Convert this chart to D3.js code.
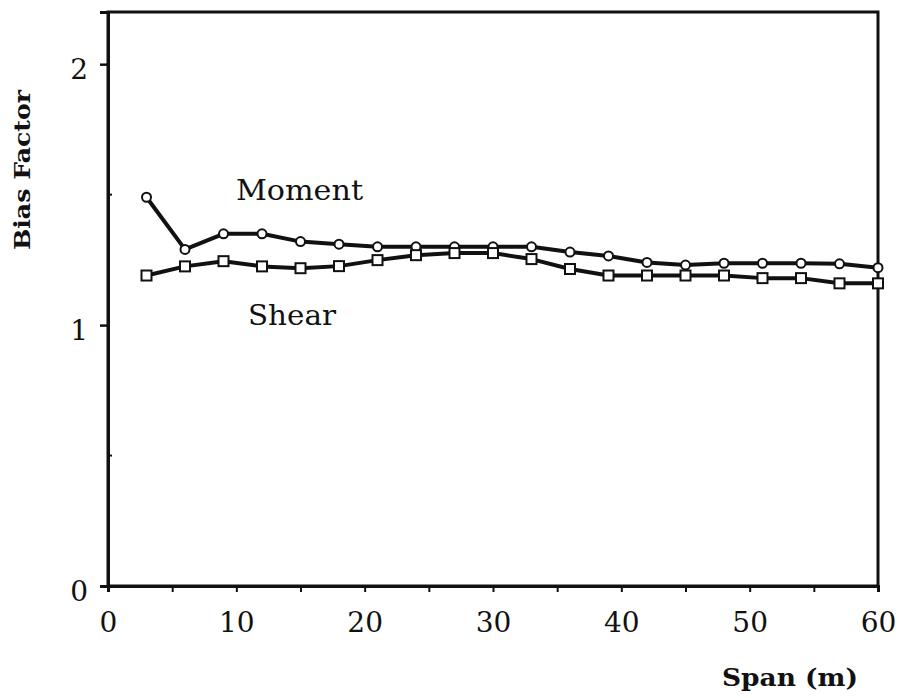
<!DOCTYPE html>
<html>
<head>
<meta charset="utf-8">
<script src="https://cdn.jsdelivr.net/npm/d3@7"></script>
<style>
  body { margin: 0; background: #fff; }
  svg { display: block; }
  .tick text { font-family: "DejaVu Serif", serif; font-size: 28px; fill: #111; }
</style>
</head>
<body>
<svg width="899" height="698"></svg>
<script>
// data
var spans = [3, 6, 9, 12, 15, 18, 21, 24, 27, 30, 33, 36, 39, 42, 45, 48, 51, 54, 57, 60];
var moment = [1.49, 1.29, 1.35, 1.35, 1.32, 1.31, 1.30, 1.30, 1.30, 1.30, 1.30, 1.28, 1.265, 1.24, 1.23, 1.237, 1.237, 1.237, 1.235, 1.22];
var shear = [1.19, 1.225, 1.245, 1.225, 1.218, 1.226, 1.249, 1.268, 1.276, 1.276, 1.253, 1.215, 1.19, 1.19, 1.19, 1.19, 1.18, 1.18, 1.16, 1.16];
var xTicks = [0, 5, 10, 15, 20, 25, 30, 35, 40, 45, 50, 55, 60];
var yMajor = [0, 1, 2];
var yMinor = [0.5, 1.5];

var svg = d3.select('svg');

var x = d3.scaleLinear().domain([0, 60]).range([108, 878]);
var y = d3.scaleLinear().domain([0, 2.2]).range([586, 12]);

// frame
svg.append('rect')
    .attr('x', x(0))
    .attr('y', y(2.2))
    .attr('width', x(60) - x(0))
    .attr('height', y(0) - y(2.2))
    .attr('fill', 'none')
    .attr('stroke', '#111')
    .attr('stroke-width', 3);

// x axis
var xAxis = svg.append('g')
    .attr('transform', 'translate(0,' + y(0) + ')')
    .call(d3.axisBottom(x)
        .tickValues(xTicks)
        .tickSize(6)
        .tickPadding(20)
        .tickFormat(function (d) { return d % 10 === 0 ? d : ''; }));
xAxis.select('.domain').attr('stroke-width', 3).attr('stroke', '#111');
xAxis.selectAll('.tick line').attr('stroke-width', 2).attr('stroke', '#111');

// y axis
var yAxis = svg.append('g')
    .attr('transform', 'translate(' + x(0) + ',0)')
    .call(d3.axisLeft(y)
        .tickValues(yMajor)
        .tickSize(8)
        .tickPadding(12)
        .tickFormat(d3.format('d')));
yAxis.select('.domain').attr('stroke-width', 3).attr('stroke', '#111');
yAxis.selectAll('.tick line').attr('stroke-width', 2.5).attr('stroke', '#111');
yAxis.selectAll('.tick text').attr('dy', '0.5em');

svg.append('g').selectAll('line')
    .data(yMinor).enter()
    .append('line')
    .attr('x1', x(0))
    .attr('x2', x(0) + 4)
    .attr('y1', function (d) { return y(d); })
    .attr('y2', function (d) { return y(d); })
    .attr('stroke', '#111')
    .attr('stroke-width', 2);

// axis titles
svg.append('text')
    .attr('transform', 'translate(30,170)rotate(-90)')
    .attr('text-anchor', 'middle')
    .attr('font-family', 'DejaVu Serif, serif')
    .attr('font-weight', 'bold')
    .attr('font-size', 22)
    .attr('textLength', 160)
    .attr('lengthAdjust', 'spacingAndGlyphs')
    .attr('fill', '#111')
    .text('Bias Factor');

svg.append('text')
    .attr('x', 722)
    .attr('y', 686)
    .attr('font-family', 'DejaVu Serif, serif')
    .attr('font-weight', 'bold')
    .attr('font-size', 25)
    .attr('textLength', 136)
    .attr('lengthAdjust', 'spacingAndGlyphs')
    .attr('fill', '#111')
    .text('Span (m)');

// series
var line = d3.line()
    .x(function (d) { return x(d[0]); })
    .y(function (d) { return y(d[1]); });

var momentPts = spans.map(function (s, i) { return [s, moment[i]]; });
var shearPts = spans.map(function (s, i) { return [s, shear[i]]; });

[momentPts, shearPts].forEach(function (pts) {
    svg.append('path')
        .datum(pts)
        .attr('d', line)
        .attr('fill', 'none')
        .attr('stroke', '#111')
        .attr('stroke-width', 4)
        .attr('stroke-linejoin', 'round');
});

svg.append('g').selectAll('circle')
    .data(momentPts).enter()
    .append('circle')
    .attr('cx', function (d) { return x(d[0]); })
    .attr('cy', function (d) { return y(d[1]); })
    .attr('r', 4.5)
    .attr('fill', '#fff')
    .attr('stroke', '#111')
    .attr('stroke-width', 2);

svg.append('g').selectAll('rect')
    .data(shearPts).enter()
    .append('rect')
    .attr('x', function (d) { return x(d[0]) - 5; })
    .attr('y', function (d) { return y(d[1]) - 5; })
    .attr('width', 10)
    .attr('height', 10)
    .attr('fill', '#fff')
    .attr('stroke', '#111')
    .attr('stroke-width', 2);

// series labels
svg.append('text')
    .attr('x', 236)
    .attr('y', 200)
    .attr('font-family', 'DejaVu Serif, serif')
    .attr('font-size', 28)
    .attr('textLength', 127)
    .attr('lengthAdjust', 'spacingAndGlyphs')
    .attr('fill', '#111')
    .text('Moment');

svg.append('text')
    .attr('x', 248)
    .attr('y', 325)
    .attr('font-family', 'DejaVu Serif, serif')
    .attr('font-size', 28)
    .attr('textLength', 88)
    .attr('lengthAdjust', 'spacingAndGlyphs')
    .attr('fill', '#111')
    .text('Shear');
</script>
</body>
</html>
